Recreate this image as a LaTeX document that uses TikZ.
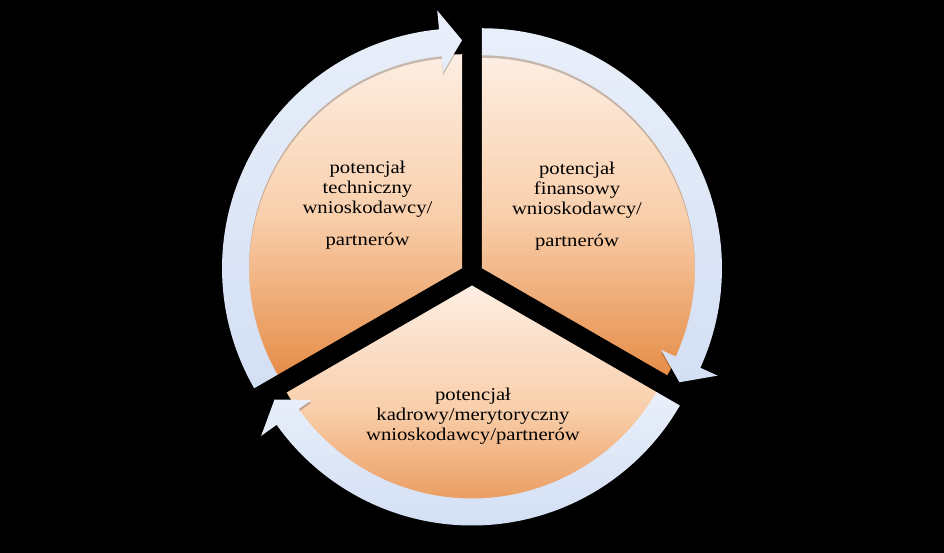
\documentclass[tikz,border=0pt]{standalone}
\usepackage{fontspec}
\setmainfont{Liberation Serif}[FakeStretch=1.15]
\usetikzlibrary{calc}
\definecolor{secTop}{HTML}{FDEEE2}
\definecolor{secMid}{HTML}{F9CFAC}
\definecolor{secBot}{HTML}{E68D48}
\definecolor{ringTop}{HTML}{E9EFFA}
\definecolor{ringBot}{HTML}{D3DFF4}
\newcommand{\ringpiece}[3]{%
  \fill[black, opacity=0.22, shift={($(#1)+(0,-2.5)$)}]
    (#2:240bp) arc[start angle=#2, end angle=#3+5.5, radius=240bp]
    -- (#3+5.5:259bp) -- (#3:228bp) -- (#3+5.5:197bp) -- (#3+5.5:213bp)
    arc[start angle=#3+5.5, end angle=#2, radius=213bp] -- cycle;
  \shade[ringseg, shift={(#1)}]
    (#2:240bp) arc[start angle=#2, end angle=#3+5.5, radius=240bp]
    -- (#3+5.5:259bp) -- (#3:228bp) -- (#3+5.5:197bp) -- (#3+5.5:213bp)
    arc[start angle=#3+5.5, end angle=#2, radius=213bp] -- cycle;}
\newcommand{\sectorpiece}[3]{%
  \shade[sectorfill, shift={(#1)}]
    (0,0) -- (#2:214bp) arc[start angle=#2, end angle=#3, radius=214bp] -- cycle;}
\begin{document}
\begin{tikzpicture}[x=1bp,y=1bp,
  sectorfill/.style={top color=secTop, bottom color=secBot, middle color=secMid, draw=none},
  ringseg/.style={top color=ringTop, bottom color=ringBot, draw=none},
  lbl/.style={anchor=base, inner sep=0pt, font=\fontsize{18bp}{20bp}\selectfont, text=black}]
\useasboundingbox (0,0) rectangle (944,553);
\fill[black] (0,0) rectangle (944,553);
\coordinate (TR) at (481.96,284.75);
\coordinate (TL) at (462.04,284.75);
\coordinate (BT) at (472,267.5);
% sectors
\sectorpiece{TR}{-30}{90}
\sectorpiece{TL}{90}{210}
\sectorpiece{BT}{210}{330}
% ring arrows
\ringpiece{TR}{90}{-30}
\ringpiece{TL}{210}{90}
\ringpiece{BT}{330}{210}
% labels
\node[lbl] (tl1) at (367.5,379) {potencjał};
\node[lbl] (tl2) at (367.5,359) {techniczny};
\node[lbl] (tl3) at (367.5,339) {wnioskodawcy/};
\node[lbl] (tl4) at (367.5,307) {partnerów};
\node[lbl] (tr1) at (577,378) {potencjał};
\node[lbl] (tr2) at (577,358) {finansowy};
\node[lbl] (tr3) at (577,338) {wnioskodawcy/};
\node[lbl] (tr4) at (577,306.3) {partnerów};
\node[lbl] (b1) at (473,152) {potencjał};
\node[lbl] (b2) at (473,132) {kadrowy/merytoryczny};
\node[lbl] (b3) at (473,112) {wnioskodawcy/partnerów};
\end{tikzpicture}
\end{document}
